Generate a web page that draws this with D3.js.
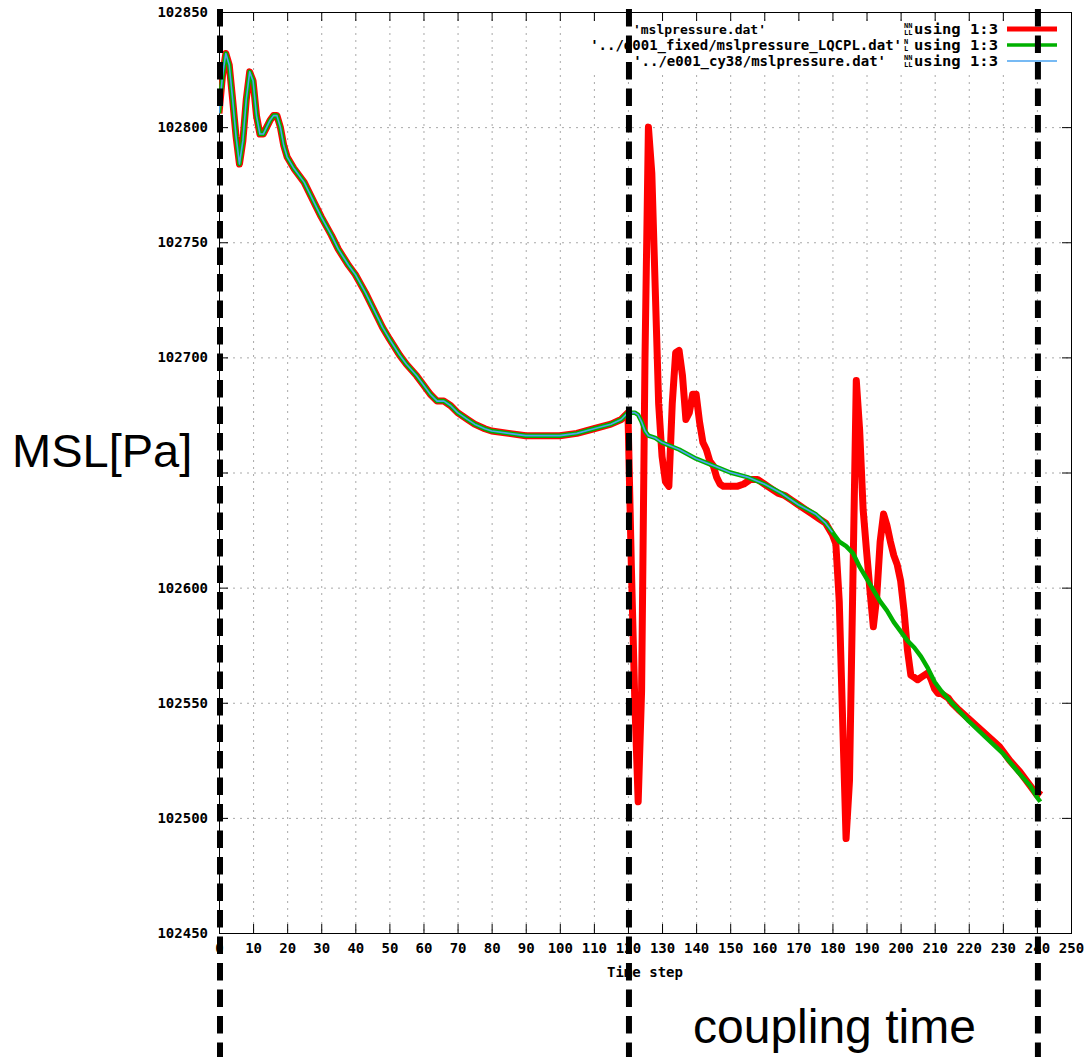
<!DOCTYPE html>
<html>
<head>
<meta charset="utf-8">
<script src="https://cdn.jsdelivr.net/npm/d3@7"></script>
<style>
  body { margin: 0; background: #fff; }
  svg { display: block; }
  .tick text { font-family: 'DejaVu Sans Mono', monospace; font-weight: bold; font-size: 14px; fill: #000; }
  .mono { font-family: 'DejaVu Sans Mono', monospace; font-weight: bold; fill: #000; }
  .big { font-family: 'Liberation Sans', Arial, sans-serif; font-size: 47px; fill: #000; }
</style>
</head>
<body>
<script>
/*
 * Mean sea level pressure per time step, three runs.
 * Values.
 */

const WIDTH = 1085;
const HEIGHT = 1057;
const PLOT_LEFT = 219;
const PLOT_RIGHT = 1071;
const PLOT_TOP = 12;
const PLOT_BOT = 933;

const COLOR_RED = '#ff0000';
const COLOR_GREEN = '#00b000';
const COLOR_BLUE = '#4aa3f0';

// tick values
const xTicks = d3.range(0, 251, 10);
const yTicks = [102450, 102500, 102550, 102600, 102650, 102700, 102750, 102800, 102850];
const yLabelled = [102450, 102500, 102550, 102600, 102700, 102750, 102800, 102850];

// steps 0..120, all three runs are identical here
const baseSteps = [0, 1, 2, 3, 4, 5, 6, 7, 8, 9, 10, 11, 12, 13, 14, 15, 16, 17, 18, 19,
  20, 22, 25, 28, 30, 33, 35, 38, 40, 43, 45, 48, 50, 53, 55, 58, 60, 62, 64, 66,
  68, 70, 73, 75, 78, 80, 85, 90, 95, 100, 105, 110, 115, 118, 120];
const baseValues = [102806, 102822, 102832, 102827, 102812, 102796, 102784, 102794, 102812, 102824,
  102820, 102805, 102797, 102797, 102800, 102803, 102805, 102805, 102800, 102792,
  102787, 102782, 102776, 102767, 102761, 102753, 102747, 102740, 102736, 102728,
  102722, 102713, 102708, 102701, 102697, 102692, 102688, 102684, 102681, 102681,
  102679, 102676, 102673, 102671, 102669, 102668, 102667, 102666, 102666, 102666,
  102667, 102669, 102671, 102673, 102676];

// 'mslpressure.dat' after step 120
const redSteps = [121, 122, 123, 124, 125, 126, 127, 128, 129, 130, 131, 132, 133, 134, 135,
  136, 137, 138, 139, 140, 141, 142, 143, 144, 145, 146, 147, 148, 150, 152, 154, 156,
  158, 160, 162, 164, 166, 168, 170, 172, 174, 176, 178, 180, 181, 182, 183, 184, 185,
  186, 187, 188, 189, 190, 191, 192, 193, 194, 195, 196, 197, 198, 199, 200, 201, 202,
  203, 204, 205, 206, 207, 208, 209, 210, 211, 212, 213, 214, 215, 217, 220, 223, 226,
  229, 232, 235, 238, 240, 241];
const redValues = [102609, 102551, 102507, 102555, 102700, 102800, 102780, 102730, 102680, 102657,
  102646, 102644, 102680, 102702, 102703, 102692, 102673, 102676, 102684, 102684,
  102672, 102663, 102660, 102655, 102653, 102648, 102645, 102644, 102644, 102644,
  102645, 102647, 102647, 102645, 102643, 102641, 102640, 102638, 102636, 102634,
  102632, 102630, 102628, 102623, 102619, 102594, 102542, 102491, 102516, 102603,
  102690, 102668, 102634, 102616, 102599, 102583, 102596, 102620, 102632, 102627,
  102620, 102614, 102610, 102603, 102590, 102573, 102562, 102561, 102560, 102561,
  102562, 102563, 102560, 102556, 102554, 102554, 102553, 102552, 102550, 102547,
  102543, 102539, 102535, 102531, 102525, 102520, 102514, 102510, 102512];

// '../e001_fixed/mslpressure_LQCPL.dat' after step 120
const greenSteps = [121, 122, 123, 124, 125, 126, 128, 130, 135, 140, 145, 150, 155, 160, 165,
  170, 175, 178, 180, 182, 184, 186, 188, 190, 192, 194, 196, 198, 200, 202, 204, 206,
  208, 210, 212, 215, 220, 225, 230, 235, 238, 240, 241];
const greenValues = [102676, 102676, 102675, 102672, 102668, 102666, 102665, 102663, 102660, 102656,
  102653, 102650, 102648, 102645, 102641, 102636, 102632, 102628, 102624, 102620,
  102618, 102615, 102609, 102604, 102599, 102594, 102590, 102585, 102581, 102577,
  102574, 102570, 102565, 102559, 102555, 102550, 102542, 102535, 102528, 102519,
  102514, 102509, 102507];

// '../e001_cy38/mslpressure.dat' after step 120, it stops before the green run
const blueSteps = [121, 122, 123, 124, 125, 126, 128, 130, 135, 140, 145, 150, 155, 160, 165,
  170, 175, 178, 180];
const blueValues = [102676, 102676, 102675, 102672, 102668, 102666, 102665, 102663, 102660, 102656,
  102653, 102650, 102648, 102645, 102641, 102636, 102632, 102628, 102624];

// coupling markers (time steps)
const couplingSteps = [0, 120, 240];

const legendNames = [
  "'mslpressure.dat'",
  "'../e001_fixed/mslpressure_LQCPL.dat'",
  "'../e001_cy38/mslpressure.dat'"
];

/*
 * Builds the full point list for one run.
 */

const toPoints = (steps, values) => steps.map((s, i) => ({ step: s, value: values[i] }));

const xScale = d3.scaleLinear().domain([0, 250]).range([PLOT_LEFT, PLOT_RIGHT]);
const yScale = d3.scaleLinear().domain([102450, 102850]).range([PLOT_BOT, PLOT_TOP]);

const svg = d3.select('body')
  .append('svg')
    .attr('width', WIDTH)
    .attr('height', HEIGHT);

svg.append('rect')
    .attr('width', WIDTH)
    .attr('height', HEIGHT)
    .attr('fill', '#fff');

/*
 * Dotted grid.
 */

const grid = svg.append('g').attr('stroke', '#a8a8a8').attr('stroke-dasharray', '2,5');

grid.selectAll('.vgrid')
  .data(xTicks.filter(t => t > 0 && t < 250))
  .enter()
  .append('line')
    .attr('x1', d => xScale(d) + 0.5)
    .attr('x2', d => xScale(d) + 0.5)
    .attr('y1', PLOT_TOP)
    .attr('y2', PLOT_BOT);

grid.selectAll('.hgrid')
  .data(yTicks.filter(t => t > 102450 && t < 102850))
  .enter()
  .append('line')
    .attr('x1', PLOT_LEFT)
    .attr('x2', PLOT_RIGHT)
    .attr('y1', d => yScale(d) + 0.5)
    .attr('y2', d => yScale(d) + 0.5);

/*
 * Axes with inward ticks on all four sides.
 */

const addAxes = () => {
  svg.append('g')
      .attr('transform', `translate(0, ${PLOT_BOT})`)
      .call(d3.axisBottom(xScale).tickValues(xTicks).tickSizeInner(-9).tickSizeOuter(0).tickPadding(10));

  svg.append('g')
      .attr('transform', `translate(0, ${PLOT_TOP})`)
      .call(d3.axisTop(xScale).tickValues(xTicks).tickSizeInner(-9).tickSizeOuter(0).tickFormat(''));

  svg.append('g')
      .attr('transform', `translate(${PLOT_LEFT}, 0)`)
      .call(d3.axisLeft(yScale).tickValues(yTicks).tickSizeInner(-9).tickSizeOuter(0).tickPadding(11)
        .tickFormat(d => yLabelled.includes(d) ? d : ''));

  svg.append('g')
      .attr('transform', `translate(${PLOT_RIGHT}, 0)`)
      .call(d3.axisRight(yScale).tickValues(yTicks).tickSizeInner(-9).tickSizeOuter(0).tickFormat(''));

  svg.selectAll('.domain').remove();
  svg.selectAll('.tick line').attr('stroke', '#000');

  svg.append('rect')
      .attr('x', PLOT_LEFT + 0.5)
      .attr('y', PLOT_TOP + 0.5)
      .attr('width', PLOT_RIGHT - PLOT_LEFT)
      .attr('height', PLOT_BOT - PLOT_TOP)
      .attr('fill', 'none')
      .attr('stroke', '#000');

  svg.append('text')
      .attr('class', 'mono')
      .attr('x', (PLOT_LEFT + PLOT_RIGHT) / 2)
      .attr('y', 977)
      .attr('text-anchor', 'middle')
      .style('font-size', '14px')
      .text('Time step');
};

addAxes();

/*
 * The three runs: thick red under green under thin blue.
 */

const line = d3.line()
    .x(d => xScale(d.step))
    .y(d => yScale(d.value));

const base = toPoints(baseSteps, baseValues);
const runs = [
  { points: base.concat(toPoints(redSteps, redValues)), color: COLOR_RED, width: 7 },
  { points: base.concat(toPoints(greenSteps, greenValues)), color: COLOR_GREEN, width: 4.5 },
  { points: base.concat(toPoints(blueSteps, blueValues)), color: COLOR_BLUE, width: 1.6 }
];

svg.append('clipPath')
    .attr('id', 'plot-clip')
  .append('rect')
    .attr('x', PLOT_LEFT)
    .attr('y', PLOT_TOP)
    .attr('width', PLOT_RIGHT - PLOT_LEFT)
    .attr('height', PLOT_BOT - PLOT_TOP);

svg.append('g')
    .attr('clip-path', 'url(#plot-clip)')
  .selectAll('path')
  .data(runs)
  .enter()
  .append('path')
    .attr('d', d => line(d.points))
    .attr('fill', 'none')
    .attr('stroke', d => d.color)
    .attr('stroke-width', d => d.width)
    .attr('stroke-linejoin', 'round');

/*
 * Legend in the top right corner of the plot.
 */

const addLegend = () => {
  const rowY = [34, 50, 66];
  const lineY = [29, 45, 61];
  const nameEnd = [766, 902, 886];
  const nameSize = [13, 14, 14];
  const sample = [
    { color: COLOR_RED, width: 5 },
    { color: COLOR_GREEN, width: 3.5 },
    { color: COLOR_BLUE, width: 1.5 }
  ];

  svg.append('rect')
      .attr('x', 590)
      .attr('y', 21)
      .attr('width', 476)
      .attr('height', 50)
      .attr('fill', '#fff');

  legendNames.forEach((name, i) => {
    svg.append('text')
        .attr('class', 'mono')
        .attr('x', nameEnd[i])
        .attr('y', rowY[i])
        .attr('text-anchor', 'end')
        .style('font-size', `${nameSize[i]}px`)
        .text(name);

    // odd little glyph pair that gnuplot printed before "using"
    svg.append('text')
        .attr('class', 'mono')
        .attr('x', 904)
        .attr('y', rowY[i] - 6)
        .style('font-size', '7px')
        .text(i === 1 ? ' N' : 'NN');
    svg.append('text')
        .attr('class', 'mono')
        .attr('x', 904)
        .attr('y', rowY[i] + 1)
        .style('font-size', '7px')
        .text(i === 1 ? ' L' : 'LL');

    svg.append('text')
        .attr('class', 'mono')
        .attr('x', 914)
        .attr('y', rowY[i])
        .attr('textLength', 84)
        .attr('lengthAdjust', 'spacingAndGlyphs')
        .style('font-size', '14px')
        .text('using 1:3');

    svg.append('line')
        .attr('x1', 1007)
        .attr('x2', 1057)
        .attr('y1', lineY[i])
        .attr('y2', lineY[i])
        .attr('stroke', sample[i].color)
        .attr('stroke-width', sample[i].width);
  });
};

addLegend();

/*
 * Dashed markers of the coupling window and the annotations.
 */

svg.selectAll('.coupling')
  .data(couplingSteps)
  .enter()
  .append('line')
    .attr('x1', d => xScale(d) + 1)
    .attr('x2', d => xScale(d) + 1)
    .attr('y1', 0)
    .attr('y2', HEIGHT)
    .attr('stroke', '#000')
    .attr('stroke-width', 6)
    .attr('stroke-dasharray', '17.5,9')
    .attr('stroke-dashoffset', 17.5);

svg.append('rect')
    .attr('x', 0)
    .attr('y', 426)
    .attr('width', 212)
    .attr('height', 60)
    .attr('fill', '#fff');

svg.append('text')
    .attr('class', 'big')
    .attr('x', 12)
    .attr('y', 467)
    .text('MSL[Pa]');

svg.append('text')
    .attr('class', 'big')
    .attr('x', 693)
    .attr('y', 1043)
    .style('font-size', '48px')
    .text('coupling time');
</script>
</body>
</html>
